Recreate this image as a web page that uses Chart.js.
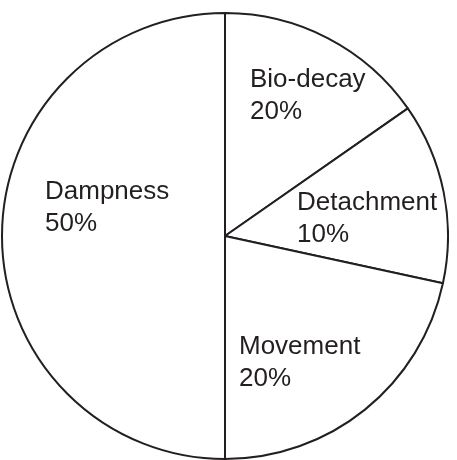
<!DOCTYPE html>
<html>
<head>
<meta charset="utf-8">
<script src="https://cdn.jsdelivr.net/npm/chart.js@4"></script>
<style>
    html, body { margin: 0; padding: 0; background: #fff; overflow: hidden; width: 457px; height: 460px; }
    #wrap { position: absolute; left: 1px; top: 12px; width: 448px; height: 448px; }
</style>
</head>
<body>
<div id="wrap"><canvas id="pieChart"></canvas></div>
<script>
// slices clockwise from 12 o'clock
const categories = ['Bio-decay', 'Detachment', 'Movement', 'Dampness'];
const shareLabels = ['20%', '10%', '20%', '50%'];
// slice sizes as drawn (the figure is not to scale with its printed labels)
const sliceValues = [15.3, 13.1, 21.6, 50];

const ink = '#231f20';

// text placement relative to the pie centre, in px (left edge, first baseline)
const labelOffsets = [
    { dx: 25, dy: -149 },
    { dx: 72, dy: -26 },
    { dx: 14, dy: 118 },
    { dx: -180, dy: -37 }
];

const sliceLabels = {
    id: 'sliceLabels',
    afterDatasetsDraw(chart) {
        const ctx = chart.ctx;
        const arc = chart.getDatasetMeta(0).data[0];
        ctx.save();
        ctx.fillStyle = ink;
        ctx.font = '26px "Liberation Sans", Arial, sans-serif';
        ctx.textAlign = 'left';
        ctx.textBaseline = 'alphabetic';
        categories.forEach((name, i) => {
            const x = arc.x + labelOffsets[i].dx;
            const y = arc.y + labelOffsets[i].dy;
            ctx.fillText(name, x, y);
            ctx.fillText(shareLabels[i], x, y + 32);
        });
        ctx.restore();
    }
};

new Chart(document.getElementById('pieChart').getContext('2d'), {
    type: 'pie',
    data: {
        labels: categories,
        datasets: [{
            data: sliceValues,
            backgroundColor: '#ffffff',
            borderColor: ink,
            borderWidth: 2,
            borderAlign: 'center'
        }]
    },
    options: {
        responsive: true,
        maintainAspectRatio: false,
        animation: false,
        rotation: 0,
        layout: { padding: 0 },
        plugins: {
            legend: { display: false },
            tooltip: { enabled: false }
        }
    },
    plugins: [sliceLabels]
});
</script>
</body>
</html>
